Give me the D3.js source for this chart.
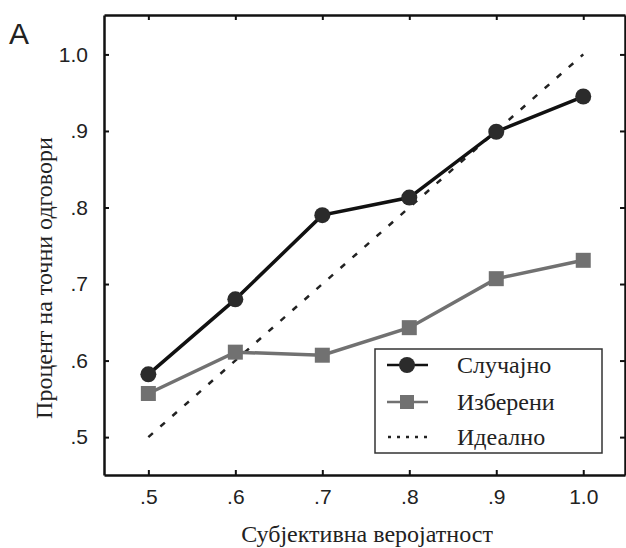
<!DOCTYPE html>
<html>
<head>
<meta charset="utf-8">
<script src="https://cdn.jsdelivr.net/npm/d3@7"></script>
<style>
  body { margin: 0; background: #fff; }
  svg { display: block; }
</style>
</head>
<body>
<svg id="chart"></svg>
<script>
const probs = [0.5, 0.6, 0.7, 0.8, 0.9, 1.0];
const randomVals = [0.582, 0.68, 0.79, 0.813, 0.899, 0.945];
const chosenVals = [0.557, 0.611, 0.607, 0.643, 0.707, 0.731];
const idealVals = [0.5, 1.0];
const tickVals = [0.5, 0.6, 0.7, 0.8, 0.9, 1.0];
const tickLabels = [".5", ".6", ".7", ".8", ".9", "1.0"];
const legendNames = ["Случајно", "Изберени", "Идеално"];

const size = { width: 626, height: 548 };
const margin = { top: 15, right: 1, bottom: 73, left: 104 };
const BLACK = "#111";
const GRAY = "#717171";
const serif = "Liberation Serif, Times New Roman, serif";
const sans = "Liberation Sans, Arial, sans-serif";

const svg = d3.select("#chart").attr("width", size.width).attr("height", size.height);

const x = d3.scaleLinear().domain([0.449, 1.048]).range([margin.left, size.width - margin.right]);
const y = d3.scaleLinear().domain([0.4505, 1.0515]).range([size.height - margin.bottom, margin.top]);

const fmt = (d) => tickLabels[tickVals.indexOf(d)];

// axes with inward ticks on all four sides
const axes = [
  { axis: d3.axisBottom(x), t: `translate(0,${y.range()[0]})`, labels: true, pad: 14 },
  { axis: d3.axisTop(x), t: `translate(0,${y.range()[1]})`, labels: false, pad: 14 },
  { axis: d3.axisLeft(y), t: `translate(${x.range()[0]},0)`, labels: true, pad: 16 },
  { axis: d3.axisRight(y), t: `translate(${x.range()[1]},0)`, labels: false, pad: 14 },
];
axes.forEach(({ axis, t, labels, pad }) => {
  const g = svg
    .append("g")
    .attr("transform", t)
    .call(axis.tickValues(tickVals).tickFormat(labels ? fmt : "").tickSizeInner(-5).tickSizeOuter(0).tickPadding(pad));
  g.select(".domain").attr("stroke", "#111").attr("stroke-width", 2.5);
  g.selectAll(".tick line").attr("stroke", "#111").attr("stroke-width", 2);
  g.selectAll(".tick text")
    .attr("font-family", sans)
    .attr("font-size", 21)
    .attr("fill", "#222");
});

// ideal dashed
svg
  .append("line")
  .attr("x1", x(idealVals[0]))
  .attr("y1", y(idealVals[0]))
  .attr("x2", x(idealVals[1]))
  .attr("y2", y(idealVals[1]))
  .attr("stroke", "#222")
  .attr("stroke-width", 2.5)
  .attr("stroke-dasharray", "6,10");

const line = d3
  .line()
  .x((d, i) => x(probs[i]))
  .y((d) => y(d));

svg
  .append("path")
  .datum(chosenVals)
  .attr("d", line)
  .attr("fill", "none")
  .attr("stroke", GRAY)
  .attr("stroke-width", 3.5);

svg
  .append("g")
  .selectAll("rect")
  .data(chosenVals)
  .join("rect")
  .attr("x", (d, i) => x(probs[i]) - 7.5)
  .attr("y", (d) => y(d) - 7.5)
  .attr("width", 15)
  .attr("height", 15)
  .attr("fill", GRAY);

svg
  .append("path")
  .datum(randomVals)
  .attr("d", line)
  .attr("fill", "none")
  .attr("stroke", BLACK)
  .attr("stroke-width", 3.5);

svg
  .append("g")
  .selectAll("circle")
  .data(randomVals)
  .join("circle")
  .attr("cx", (d, i) => x(probs[i]))
  .attr("cy", (d) => y(d))
  .attr("r", 8)
  .attr("fill", "#2b2b2b");

// legend
const legend = svg.append("g").attr("transform", "translate(375,349)");
legend
  .append("rect")
  .attr("width", 227)
  .attr("height", 104)
  .attr("fill", "#fff")
  .attr("stroke", "#333")
  .attr("stroke-width", 1.5);

const rowY = [16, 53, 88];
legend.append("line").attr("x1", 12).attr("x2", 53).attr("y1", rowY[0]).attr("y2", rowY[0]).attr("stroke", BLACK).attr("stroke-width", 2.5);
legend.append("circle").attr("cx", 32).attr("cy", rowY[0]).attr("r", 8).attr("fill", "#2b2b2b");
legend.append("line").attr("x1", 12).attr("x2", 53).attr("y1", rowY[1]).attr("y2", rowY[1]).attr("stroke", GRAY).attr("stroke-width", 2.5);
legend.append("rect").attr("x", 25).attr("y", rowY[1] - 7).attr("width", 14).attr("height", 14).attr("fill", GRAY);
legend
  .append("line")
  .attr("x1", 13)
  .attr("x2", 53)
  .attr("y1", rowY[2])
  .attr("y2", rowY[2])
  .attr("stroke", "#222")
  .attr("stroke-width", 2.5)
  .attr("stroke-dasharray", "3,6");

legend
  .selectAll("text")
  .data(legendNames)
  .join("text")
  .attr("x", 82)
  .attr("y", (d, i) => rowY[i] + 8)
  .attr("font-family", serif)
  .attr("font-size", 24)
  .attr("fill", "#222")
  .text((d) => d);

// titles
svg
  .append("text")
  .attr("x", 367)
  .attr("y", 542)
  .attr("text-anchor", "middle")
  .attr("font-family", serif)
  .attr("font-size", 24)
  .attr("fill", "#222")
  .text("Субјективна веројатност");

svg
  .append("text")
  .attr("transform", "translate(52,278) rotate(-90)")
  .attr("text-anchor", "middle")
  .attr("font-family", serif)
  .attr("font-size", 24)
  .attr("fill", "#222")
  .text("Процент на точни одговори");

svg
  .append("text")
  .attr("x", 9)
  .attr("y", 44)
  .attr("font-family", sans)
  .attr("font-size", 30)
  .attr("fill", "#222")
  .text("A");
</script>
</body>
</html>
